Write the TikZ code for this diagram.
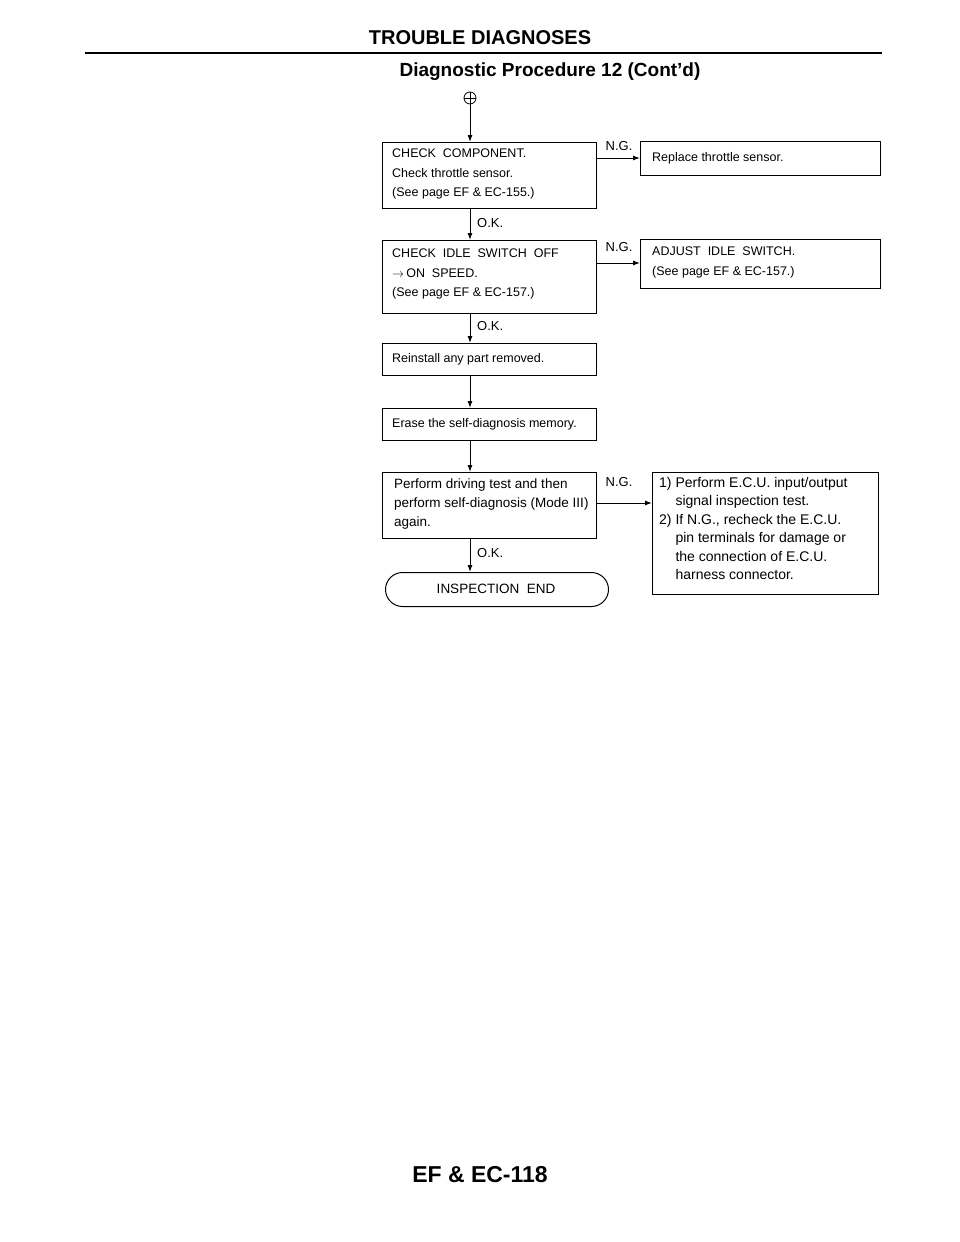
\documentclass[tikz,border=0pt]{standalone}
\usepackage{fontspec}
\usetikzlibrary{arrows.meta}
\setmainfont{Liberation Sans}
\begin{document}
\begin{tikzpicture}[x=1pt,y=-1pt,
  bx/.style={draw,line width=1pt,rectangle,anchor=north west,inner sep=0pt},
  txt/.style={anchor=north west,align=left,font=\fontsize{12.5}{19.5}\selectfont,inner sep=0pt},
  lbl/.style={font=\fontsize{13}{14}\selectfont,inner sep=1pt},
  arr/.style={-{Latex[length=7pt,width=5pt]},line width=1pt}]
\useasboundingbox (0,0) rectangle (960,1242);
\node[font=\bfseries\fontsize{20}{22}\selectfont] (title) at (480,38) {TROUBLE DIAGNOSES};
\draw[line width=1.8pt] (85,53) -- (882,53);
\node[font=\bfseries\fontsize{19}{22}\selectfont] (sub) at (550,72) {Diagnostic Procedure 12 (Cont'd)};
% connector
\node[draw,circle,minimum size=12pt,inner sep=0pt,line width=0.8pt] (c) at (470,98) {};
\draw[line width=0.8pt] (464,98)--(476,98) (470,92)--(470,104);
% boxes
\node[bx,minimum width=214pt,minimum height=66pt] (b1) at (382,142) {};
\node[txt] at (392,149) {CHECK\ \ COMPONENT.\\ Check throttle sensor.\\ (See page EF \& EC-155.)};
\node[bx,minimum width=240pt,minimum height=34pt] (r1) at (640,141) {};
\node[txt,anchor=west] at (652,158) {Replace throttle sensor.};
\node[bx,minimum width=214pt,minimum height=73pt] (b2) at (382,240) {};
\node[txt] at (392,249) {CHECK\ \ IDLE\ \ SWITCH\ \ OFF\\ $\rightarrow$\,ON\ \ SPEED.\\ (See page EF \& EC-157.)};
\node[bx,minimum width=240pt,minimum height=49pt] (r2) at (640,239) {};
\node[txt] at (652,247) {ADJUST\ \ IDLE\ \ SWITCH.\\ (See page EF \& EC-157.)};
\node[bx,minimum width=214pt,minimum height=32pt] (b3) at (382,343) {};
\node[txt,anchor=west] at (392,359) {Reinstall any part removed.};
\node[bx,minimum width=214pt,minimum height=32pt] (b4) at (382,408) {};
\node[txt,anchor=west] at (392,424) {Erase the self-diagnosis memory.};
\node[bx,minimum width=214pt,minimum height=66pt] (b5) at (382,472) {};
\node[txt,font=\fontsize{13.5}{19}\selectfont] at (394,479) {Perform driving test and then\\ perform self-diagnosis (Mode III)\\ again.};
\node[bx,minimum width=226pt,minimum height=122pt] (r5) at (652,472) {};
\node[txt,font=\fontsize{14}{18.5}\selectfont] at (659,477) {1)\ Perform E.C.U. input/output\\ \phantom{1)\ }signal inspection test.\\ 2)\ If N.G., recheck the E.C.U.\\ \phantom{2)\ }pin terminals for damage or\\ \phantom{2)\ }the connection of E.C.U.\\ \phantom{2)\ }harness connector.};
\node[draw,line width=1pt,rounded corners=17pt,minimum width=223pt,minimum height=34pt,anchor=north west,inner sep=0pt] (end) at (385,572) {};
\node[txt,anchor=center,font=\fontsize{13.5}{16}\selectfont] at (496,589) {INSPECTION\ \ END};
% connectors
\draw[arr] (c.south) -- (470,142);
\draw[arr] (470,208) -- (470,240);
\draw[arr] (470,313) -- (470,343);
\draw[arr] (470,375) -- (470,408);
\draw[arr] (470,440) -- (470,472);
\draw[arr] (470,538) -- (470,572);
\draw[arr] (596,158) -- (640,158);
\draw[arr] (596,263) -- (640,263);
\draw[arr] (596,503) -- (652,503);
\node[lbl] at (619,146) {N.G.};
\node[lbl] at (619,247) {N.G.};
\node[lbl] at (619,482) {N.G.};
\node[lbl,anchor=west] at (476,223) {O.K.};
\node[lbl,anchor=west] at (476,326) {O.K.};
\node[lbl,anchor=west] at (476,553) {O.K.};
\node[font=\bfseries\fontsize{23}{26}\selectfont] (foot) at (480,1175) {EF \& EC-118};
\end{tikzpicture}
\end{document}
